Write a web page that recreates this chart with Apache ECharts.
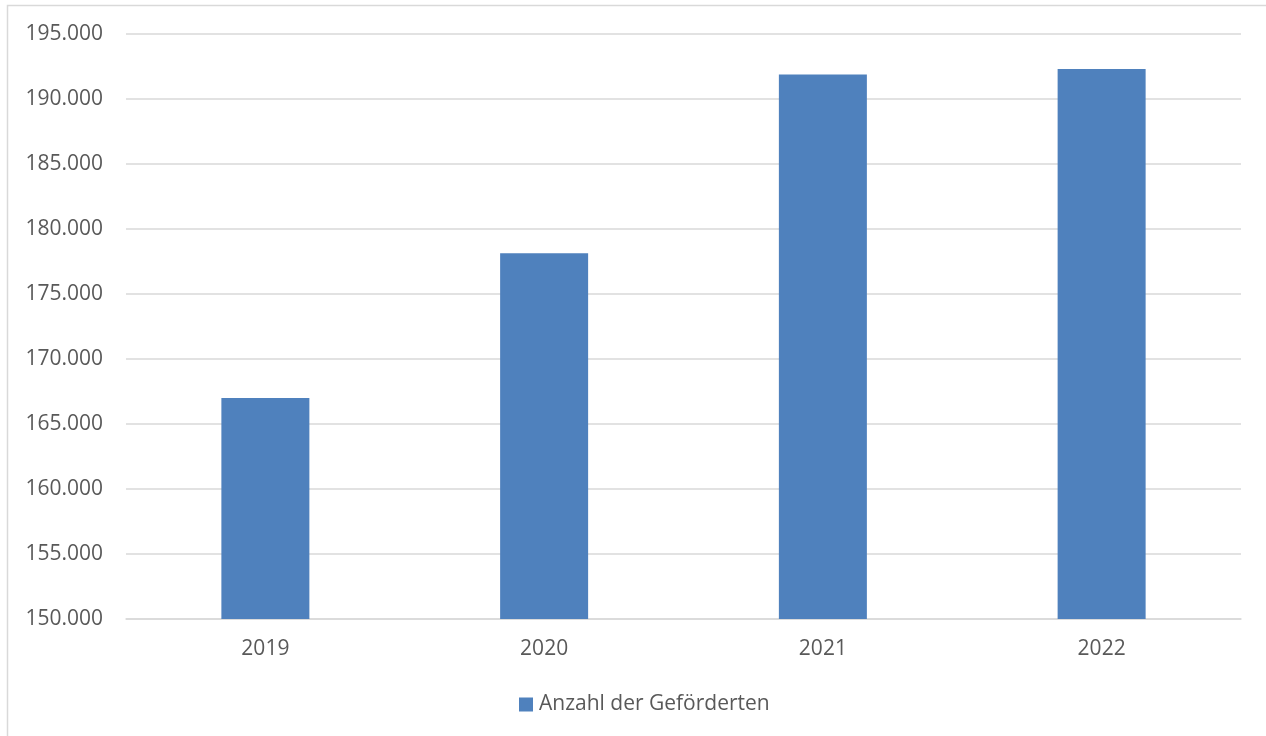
<!DOCTYPE html>
<html>
<head>
<meta charset="utf-8">
<script src="https://cdn.jsdelivr.net/npm/echarts@6/dist/echarts.min.js"></script>
<style>
  html, body { margin: 0; padding: 0; background: #ffffff; }
  #chart { width: 1266px; height: 736px; }
</style>
</head>
<body>
<div id="chart"></div>
<script>
// Geförderte pro Jahr
const years = ['2019', '2020', '2021', '2022'];
const gefoerderte = [167000, 178130, 191880, 192310];
const seriesName = 'Anzahl der Geförderten';
const yMin = 150000;
const yMax = 195000;
const yStep = 5000;

// thousands separator as in German notation: 150000 -> "150.000"
function formatDe(v) {
  return String(Math.round(v)).replace(/\B(?=(\d{3})+(?!\d))/g, '.');
}

const FONT = '"Open Sans", "Noto Sans", sans-serif';
const TEXT = '#595959';
const GRID = '#d9d9d9';
const FS = 21;

const chart = echarts.init(document.getElementById('chart'), null, { renderer: 'canvas' });
chart.setOption({
  animation: false,
  backgroundColor: '#ffffff',
  textStyle: { fontFamily: FONT },
  graphic: [{
    type: 'rect',
    silent: true,
    shape: { x: 7.5, y: 5.5, width: 1300, height: 800 },
    style: { fill: 'none', stroke: '#d9d9d9', lineWidth: 1.5 }
  }],
  grid: { left: 126, right: 25, top: 34, bottom: 117, containLabel: false },
  legend: {
    data: [seriesName],
    bottom: 16,
    left: 514,
    itemWidth: 14,
    itemHeight: 14,
    itemGap: 6,
    icon: 'rect',
    textStyle: { color: TEXT, fontSize: FS, fontFamily: FONT, padding: [0, 0, 0, 1] }
  },
  xAxis: {
    type: 'category',
    data: years,
    axisLine: { show: true, lineStyle: { color: GRID, width: 1.5 } },
    axisTick: { show: false },
    axisLabel: { color: TEXT, fontSize: FS, fontFamily: FONT, margin: 20 }
  },
  yAxis: {
    type: 'value',
    min: yMin,
    max: yMax,
    interval: yStep,
    axisLine: { show: false },
    axisTick: { show: false },
    splitLine: { lineStyle: { color: GRID, width: 1.5 } },
    axisLabel: {
      color: TEXT, fontSize: FS, fontFamily: FONT, margin: 23,
      formatter: formatDe
    }
  },
  series: [{
    name: seriesName,
    type: 'bar',
    data: gefoerderte,
    barWidth: 88,
    itemStyle: { color: '#4f81bd' }
  }]
});
</script>
</body>
</html>
